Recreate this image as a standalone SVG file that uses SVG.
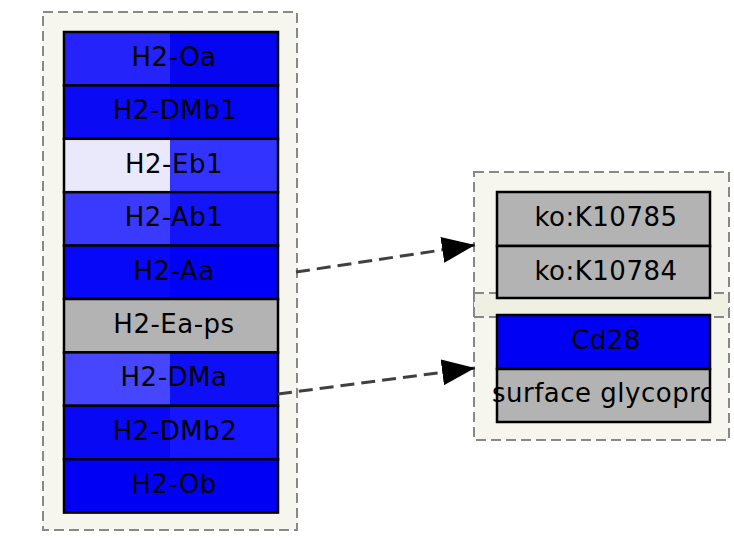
<svg xmlns="http://www.w3.org/2000/svg" width="734" height="538" viewBox="0 0 734 538">
<style>
.cont{fill:#f6f6ee;stroke:#888;stroke-width:2;stroke-dasharray:10,5}
.box{fill:none;stroke:#000;stroke-width:2.5}
.lbl{font-family:"DejaVu Sans",sans-serif;font-size:26px;letter-spacing:0.5px;fill:#000;text-anchor:middle}
.edge{fill:none;stroke:#404040;stroke-width:3;stroke-dasharray:14,7}
.gray{fill:#b3b3b3}
</style>
<defs>
<marker id="arr" markerUnits="userSpaceOnUse" markerWidth="34" markerHeight="26" refX="33" refY="13" orient="auto">
<polygon points="0,0 33,13 0,26" fill="#000"/>
</marker>
<clipPath id="clipR"><rect x="480" y="369" width="229" height="53"/></clipPath>
</defs>
<rect width="734" height="538" fill="#fff"/>
<g id="clusters">
<rect class="cont" x="43" y="12" width="254" height="518"/>
<rect class="cont" x="474" y="172" width="255" height="145"/>
<rect class="cont" x="474" y="293" width="255" height="147"/>
<rect x="475" y="294" width="253" height="22" fill="#efefe2"/>
<line x1="474" y1="293" x2="729" y2="293" stroke="#888" stroke-width="2" stroke-dasharray="10,5"/>
<line x1="474" y1="317" x2="729" y2="317" stroke="#888" stroke-width="2" stroke-dasharray="10,5"/>
</g>
<g id="n-H2-Oa">
<rect x="64" y="32" width="106" height="53.4" fill="#2323fa"/><rect x="170" y="32" width="108" height="53.4" fill="#0505f0"/>
<rect class="box" x="64" y="32" width="214" height="53.4"/>
<text class="lbl" x="174" y="66">H2-Oa</text>
</g>
<g id="n-H2-DMb1">
<rect x="64" y="85.4" width="106" height="53.4" fill="#0a0af5"/><rect x="170" y="85.4" width="108" height="53.4" fill="#0505f5"/>
<rect class="box" x="64" y="85.4" width="214" height="53.4"/>
<text class="lbl" x="175" y="119.4">H2-DMb1</text>
</g>
<g id="n-H2-Eb1">
<rect x="64" y="138.8" width="106" height="53.4" fill="#e9e9fb"/><rect x="170" y="138.8" width="108" height="53.4" fill="#3333ff"/>
<rect class="box" x="64" y="138.8" width="214" height="53.4"/>
<text class="lbl" x="174" y="172.8">H2-Eb1</text>
</g>
<g id="n-H2-Ab1">
<rect x="64" y="192.2" width="106" height="53.4" fill="#3a3aff"/><rect x="170" y="192.2" width="108" height="53.4" fill="#1414f8"/>
<rect class="box" x="64" y="192.2" width="214" height="53.4"/>
<text class="lbl" x="174" y="226.2">H2-Ab1</text>
</g>
<g id="n-H2-Aa">
<rect x="64" y="245.6" width="106" height="53.4" fill="#0808f8"/><rect x="170" y="245.6" width="108" height="53.4" fill="#0000fa"/>
<rect class="box" x="64" y="245.6" width="214" height="53.4"/>
<text class="lbl" x="174" y="279.6">H2-Aa</text>
</g>
<g id="n-H2-Ea-ps">
<rect class="gray" x="64" y="299" width="214" height="53.4"/>
<rect class="box" x="64" y="299" width="214" height="53.4"/>
<text class="lbl" x="174" y="333">H2-Ea-ps</text>
</g>
<g id="n-H2-DMa">
<rect x="64" y="352.4" width="106" height="53.4" fill="#4646ff"/><rect x="170" y="352.4" width="108" height="53.4" fill="#0f0ff5"/>
<rect class="box" x="64" y="352.4" width="214" height="53.4"/>
<text class="lbl" x="174" y="386.4">H2-DMa</text>
</g>
<g id="n-H2-DMb2">
<rect x="64" y="405.8" width="106" height="53.4" fill="#0808f5"/><rect x="170" y="405.8" width="108" height="53.4" fill="#1515ff"/>
<rect class="box" x="64" y="405.8" width="214" height="53.4"/>
<text class="lbl" x="175" y="439.8">H2-DMb2</text>
</g>
<g id="n-H2-Ob">
<rect x="64" y="459.2" width="214" height="53.4" fill="#0000f5"/>
<rect class="box" x="64" y="459.2" width="214" height="53.4"/>
<text class="lbl" x="174" y="493.2">H2-Ob</text>
</g>
<g id="n-K10785">
<rect class="gray" x="497" y="192" width="213" height="54"/>
<rect class="box" x="497" y="192" width="213" height="54"/>
<text class="lbl" x="606" y="226">ko:K10785</text>
</g>
<g id="n-K10784">
<rect class="gray" x="497" y="246" width="213" height="52"/>
<rect class="box" x="497" y="246" width="213" height="52"/>
<text class="lbl" x="606" y="280">ko:K10784</text>
</g>
<g id="n-Cd28">
<rect x="497" y="315" width="213" height="54" fill="#0000f5"/>
<rect class="box" x="497" y="315" width="213" height="54"/>
<text class="lbl" x="606" y="349">Cd28</text>
</g>
<g id="n-surface">
<rect class="gray" x="497" y="369" width="213" height="53"/>
<text class="lbl" x="492" y="402" style="text-anchor:start" clip-path="url(#clipR)">surface glycopro</text>
<rect class="box" x="497" y="369" width="213" height="53"/>
</g>
<g id="edges">
<path class="edge" d="M296,272 L475,245" marker-end="url(#arr)"/>
<path class="edge" d="M278,394 L475,368" marker-end="url(#arr)"/>
</g>
</svg>
